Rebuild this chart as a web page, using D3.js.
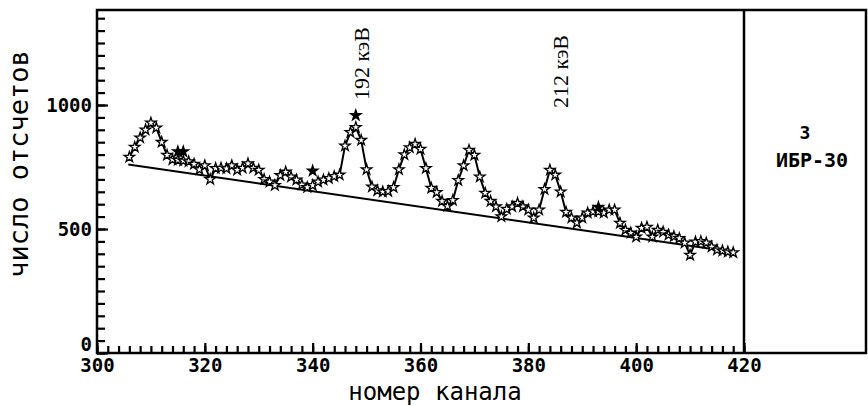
<!DOCTYPE html>
<html>
<head>
<meta charset="utf-8">
<script src="https://cdn.jsdelivr.net/npm/d3@7"></script>
<style>
  body { margin: 0; background: #fff; }
</style>
</head>
<body>
<div id="chart"></div>
<script>
// channel of the first point, one point per channel after that
const firstChannel = 306;
const counts = [
  790, 830, 868, 900, 928, 908, 850, 798, 780, 778,   // 306-315
  775, 772, 762, 740, 756, 700, 745, 746, 744, 756,   // 316-325
  738, 746, 764, 746, 738, 700, 690, 676, 716, 730,   // 326-335
  710, 698, 678, 668, 676, 690, 698, 704, 712, 718,   // 336-345
  835, 890, 910, 858, 740, 670, 655, 650, 652, 668,   // 346-355
  740, 800, 828, 842, 822, 745, 665, 648, 612, 592,   // 356-365
  616, 696, 756, 818, 798, 710, 645, 612, 590, 550,   // 366-375
  580, 590, 604, 590, 577, 545, 577, 660, 738, 718,   // 376-385
  650, 568, 545, 525, 545, 565, 570, 570, 565, 577,   // 386-395
  577, 524, 496, 484, 468, 504, 508, 468, 496, 488,   // 396-405
  476, 470, 462, 444, 395, 448, 450, 444, 428, 416,   // 406-415
  412, 408, 405                                       // 416-418
];
// points sitting off the drawn curve
const offCurve = [
  { ch: 315, v: 812 }, { ch: 316, v: 812 }, { ch: 340, v: 734 },
  { ch: 348, v: 958 }, { ch: 393, v: 588 }
];
// straight background under the peaks
const background = [{ ch: 305.8, v: 760 }, { ch: 418, v: 407 }];

const xTicks = [300, 320, 340, 360, 380, 400, 420];
const yTicks = [0, 500, 1000];
const peakLabels = [
  { text: "192 кэВ", ch: 348.7, v: 1020 },
  { text: "212 кэВ", ch: 385.6, v: 988 }
];
const panelText = ["3", "ИБР-30"];

const W = 868, H = 406;
const plotLeft = 97, plotRight = 744, plotTop = 10, plotBottom = 353, panelRight = 866;

const svg = d3.select("#chart").append("svg")
  .attr("width", W).attr("height", H);

const x = d3.scaleLinear().domain([300, 420]).range([plotLeft, plotRight]);
const y = d3.scaleLinear().domain([0, 1000]).range([plotBottom, 105]);

const points = counts.map((v, i) => ({ ch: firstChannel + i, v: v }));
const tickFont = "'DejaVu Sans Mono', monospace";

// frame and right panel
svg.append("rect")
  .attr("x", plotLeft).attr("y", plotTop)
  .attr("width", panelRight - plotLeft).attr("height", plotBottom - plotTop)
  .attr("fill", "none").attr("stroke", "#000").attr("stroke-width", 2.5);
svg.append("line")
  .attr("x1", plotRight).attr("x2", plotRight).attr("y1", plotTop).attr("y2", plotBottom)
  .attr("stroke", "#000").attr("stroke-width", 2.5);

// minor ticks (inside), every 2 channels and every 50 counts
const xMinor = svg.append("g").attr("transform", `translate(0,${plotBottom})`)
  .call(d3.axisBottom(x).tickValues(d3.range(300, 421, 2)).tickSize(-7).tickFormat(""));
const yMinor = svg.append("g").attr("transform", `translate(${plotLeft},0)`)
  .call(d3.axisLeft(y).tickValues(d3.range(0, 1351, 50)).tickSize(-8).tickFormat(""));

// major ticks with labels
const xAxis = svg.append("g").attr("transform", `translate(0,${plotBottom})`)
  .call(d3.axisBottom(x).tickValues(xTicks).tickSize(-10).tickPadding(6).tickFormat(d3.format("d")));
const yAxis = svg.append("g").attr("transform", `translate(${plotLeft},0)`)
  .call(d3.axisLeft(y).tickValues(yTicks).tickSize(-11).tickPadding(5).tickFormat(d3.format("d")));

[xMinor, yMinor, xAxis, yAxis].forEach(a => {
  a.select(".domain").remove();
  a.selectAll(".tick line")
    .style("stroke", "#000")
    .style("stroke-width", "2.2px");
});
xAxis.selectAll("text")
  .attr("fill", "#000")
  .style("font", `bold 19px ${tickFont}`);
yAxis.selectAll("text")
  .attr("fill", "#000")
  .style("font", `bold 19px ${tickFont}`)
  .attr("dy", d => d === 0 ? "-0.15em" : "0.35em");

// axis titles
svg.append("text")
  .attr("x", 435).attr("y", 400)
  .attr("text-anchor", "middle")
  .style("font", `24px ${tickFont}`)
  .text("номер канала");
svg.append("text")
  .attr("transform", "translate(28,164) rotate(-90)")
  .attr("text-anchor", "middle")
  .style("font", `27px ${tickFont}`)
  .text("число отсчетов");

// background and fitted curve
const line = d3.line().x(d => x(d.ch)).y(d => y(d.v));
svg.append("path").datum(background)
  .attr("d", line).attr("fill", "none")
  .attr("stroke", "#000").attr("stroke-width", 2);
svg.append("path").datum(points)
  .attr("d", line).attr("fill", "none")
  .attr("stroke", "#000").attr("stroke-width", 2);

const star = d3.symbol().type(d3.symbolStar).size(34);
svg.selectAll(".pt").data(points).join("path")
  .attr("class", "pt")
  .attr("transform", d => `translate(${x(d.ch)},${y(d.v)})`)
  .attr("d", star)
  .attr("fill", "#fff").attr("stroke", "#000").attr("stroke-width", 1.3);
svg.selectAll(".off").data(offCurve).join("path")
  .attr("class", "off")
  .attr("transform", d => `translate(${x(d.ch)},${y(d.v)})`)
  .attr("d", star)
  .attr("fill", "#000").attr("stroke", "#000").attr("stroke-width", 1.3);

// peak energies
svg.selectAll(".pk").data(peakLabels).join("text")
  .attr("class", "pk")
  .attr("transform", d => `translate(${x(d.ch) + 9},${y(d.v)}) rotate(-90)`)
  .style("font", "22px 'Liberation Serif', serif")
  .text(d => d.text);

// panel text
svg.selectAll(".pn").data(panelText).join("text")
  .attr("class", "pn")
  .attr("x", (d, i) => i === 0 ? 805 : 812)
  .attr("y", (d, i) => i === 0 ? 139 : 167)
  .attr("text-anchor", "middle")
  .style("font", (d, i) => `bold ${i === 0 ? 18 : 20}px ${tickFont}`)
  .text(d => d);
</script>
</body>
</html>
